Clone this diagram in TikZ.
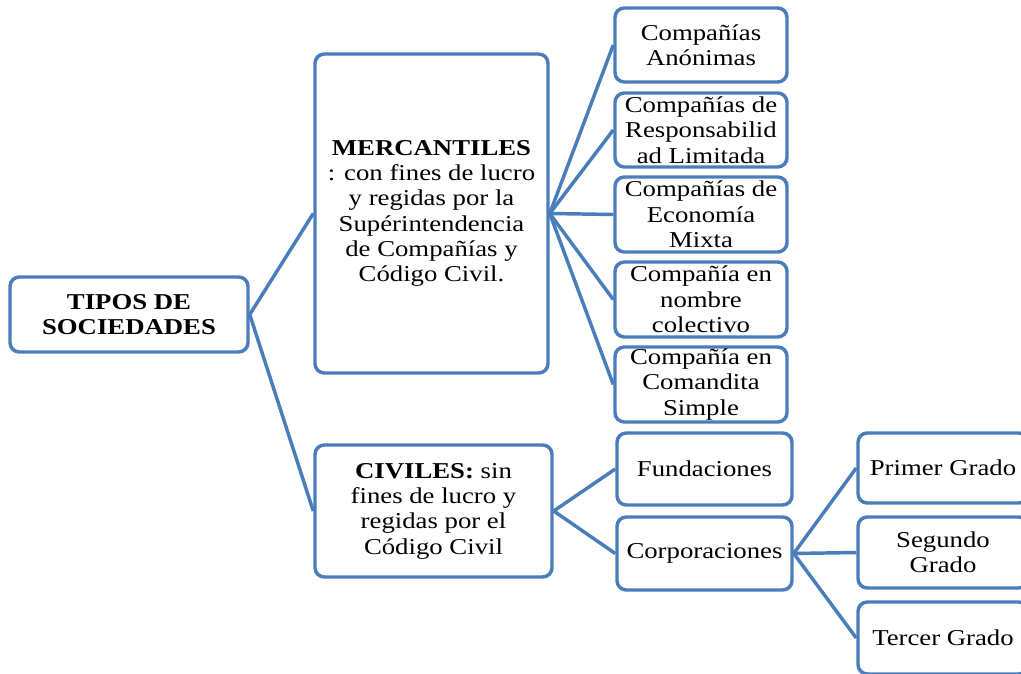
\documentclass[tikz,border=0pt]{standalone}
\usepackage{fontspec}
\setmainfont{Liberation Serif}[FakeStretch=1.18]
\begin{document}
\begin{tikzpicture}[x=0.75pt,y=-0.75pt,
  box/.style={draw=edgeblue, line width=2.6pt, fill=white, rounded corners=7pt,
    align=center, inner sep=0pt, font=\fontsize{17pt}{19pt}\selectfont},
  sz/.style 2 args={minimum width=#1*0.75pt, minimum height=#2*0.75pt},
  link/.style={draw=edgeblue, line width=2.6pt}]
\definecolor{edgeblue}{HTML}{4A7EBB}
\useasboundingbox (0,0) rectangle (1021,674);
\clip (0,0) rectangle (1021,674);

% root
\node[box, sz={238}{75}] (tipos) at (129,314.5) {\textbf{TIPOS DE}\\\textbf{SOCIEDADES}};

% second level
\node[box, sz={233}{319}] (merc) at (431.5,213.5)
  {\textbf{MERCANTILES}\\: con fines de lucro\\y regidas por la\\Supérintendencia\\de Compañías y\\Código Civil.};
\node[box, sz={237}{132}] (civ) at (433.5,511)
  {\textbf{CIVILES:} sin\\fines de lucro y\\regidas por el\\Código Civil};

% mercantile companies
\node[box, sz={172}{74}] (anon) at (701,45) {Compañías\\Anónimas};
\node[box, sz={172}{74}] (resp) at (701,130) {Compañías de\\Responsabilid\\ad Limitada};
\node[box, sz={172}{75}] (mixta) at (701,214.5) {Compañías de\\Economía\\Mixta};
\node[box, sz={172}{75}] (colec) at (701,299.5) {Compañía en\\nombre\\colectivo};
\node[box, sz={172}{75}] (coman) at (701,384.5) {Compañía en\\Comandita\\Simple};

% civil entities
\node[box, sz={175}{72}] (fund) at (704.5,469) {Fundaciones};
\node[box, sz={175}{73}] (corp) at (704.5,553.5) {Corporaciones};

% corporation grades
\node[box, sz={170}{70}] (g1) at (943,468) {Primer Grado};
\node[box, sz={170}{71}] (g2) at (943,552.5) {Segundo\\Grado};
\node[box, sz={170}{72}] (g3) at (943,638) {Tercer Grado};

% connectors
\path[link] (tipos.east) -- (merc.west)
            (tipos.east) -- (civ.west);
\foreach \n in {anon,resp,mixta,colec,coman}
  \path[link] (merc.east) -- (\n.west);
\path[link] (civ.east) -- (fund.west)
            (civ.east) -- (corp.west);
\foreach \n in {g1,g2,g3}
  \path[link] (corp.east) -- (\n.west);
\end{tikzpicture}
\end{document}
